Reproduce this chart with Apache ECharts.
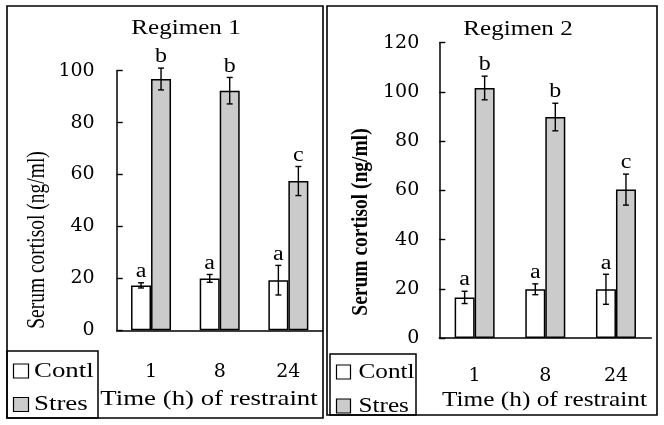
<!DOCTYPE html>
<html>
<head>
<meta charset="utf-8">
<script src="https://cdn.jsdelivr.net/npm/echarts@6/dist/echarts.min.js"></script>
<style>html,body{margin:0;padding:0;background:#fff;}#c{width:664px;height:425px;}</style>
</head>
<body>
<div id="c"></div>
<script>
const categories = ['1', '8', '24'];
const seriesNames = ['Contl', 'Stres'];
const titles = ['Regimen 1', 'Regimen 2'];
const yAxisTitle = 'Serum cortisol (ng/ml)';
const xAxisTitle = 'Time (h) of restraint';

const r1Contl = [17.3, 20.0, 19.3];
const r1ContlErr = [1.0, 1.5, 5.7];
const r1Stres = [96.8, 92.3, 57.5];
const r1StresErr = [4.2, 5.1, 5.6];
const r1ContlLetters = ['a', 'a', 'a'];
const r1StresLetters = ['b', 'b', 'c'];

const r2Contl = [16.5, 19.8, 19.8];
const r2ContlErr = [2.5, 2.2, 6.1];
const r2Stres = [101.6, 89.8, 60.3];
const r2StresErr = [4.8, 5.6, 6.3];
const r2ContlLetters = ['a', 'a', 'a'];
const r2StresLetters = ['b', 'b', 'c'];

const yMax = [100, 120];
const FONT = '"Liberation Serif", "DejaVu Serif", serif';
const NUMFONT = '"DejaVu Serif", "Liberation Serif", serif';
const STRES_COLOR = '#cbcbcb';
const FILLS = ['#ffffff', STRES_COLOR];

const chart = echarts.init(document.getElementById('c'), null, {renderer: 'canvas'});

function errSeries(gi, means, errs, letters, offset) {
  return {
    type: 'custom', xAxisIndex: gi, yAxisIndex: gi, z: 10, silent: true,
    data: means.map((m, i) => [i, m, errs[i]]),
    renderItem: function (params, api) {
      const hi = api.coord([api.value(0), api.value(1) + api.value(2)]);
      const lo = api.coord([api.value(0), api.value(1) - api.value(2)]);
      const x = hi[0] + offset;
      const st = {stroke: '#000', lineWidth: 1.4};
      return {
        type: 'group',
        children: [
          {type: 'line', shape: {x1: x, y1: hi[1], x2: x, y2: lo[1]}, style: st},
          {type: 'line', shape: {x1: x - 3, y1: hi[1], x2: x + 3, y2: hi[1]}, style: st},
          {type: 'line', shape: {x1: x - 3, y1: lo[1], x2: x + 3, y2: lo[1]}, style: st},
          {type: 'text', x: x, y: hi[1] - 1, scaleX: 1.2,
           style: {text: letters[params.dataIndex], x: 0, y: 0,
            align: 'center', verticalAlign: 'bottom', fontFamily: FONT, fontSize: 20, fill: '#000'}}
        ]
      };
    }
  };
}

const grids = [
  {left: 116.7, top: 70.7, width: 206, height: 259.6},
  {left: 439.3, top: 42.7, width: 212, height: 295.3}
];

const axisLabelMarginY = [22, 20];
const axisLabelMarginX = [32, 29];

function legendGraphics(box, sq, textX, rowY, scale) {
  const out = [{type: 'rect', shape: box, style: {fill: null, stroke: '#000', lineWidth: 1.5}, silent: true}];
  seriesNames.forEach((n, i) => {
    out.push({type: 'rect', shape: {x: sq.x, y: rowY[i] - 7, width: sq.w, height: 14},
      style: {fill: FILLS[i], stroke: '#000', lineWidth: 1.2}, silent: true});
    out.push({type: 'text', x: textX, y: rowY[i], scaleX: scale,
      style: {text: n, x: 0, y: 0, align: 'left', verticalAlign: 'middle', fontFamily: FONT, fontSize: 21, fill: '#000'}});
  });
  return out;
}

const option = {
  backgroundColor: '#fff',
  animation: false,
  grid: grids,
  xAxis: [0, 1].map(i => ({
    type: 'category', gridIndex: i, data: categories,
    axisLine: {lineStyle: {color: '#000', width: 1.5}},
    axisTick: {inside: true, length: 6, lineStyle: {color: '#000', width: 1.4}},
    axisLabel: {color: '#000', fontFamily: NUMFONT, fontSize: 19, margin: axisLabelMarginX[i]},
    splitLine: {show: false}
  })),
  yAxis: [0, 1].map(i => ({
    type: 'value', gridIndex: i, min: 0, max: yMax[i], interval: 20,
    axisLine: {show: true, lineStyle: {color: '#000', width: 1.5}},
    axisTick: {show: true, inside: true, length: 6, lineStyle: {color: '#000', width: 1.4}},
    axisLabel: {color: '#000', fontFamily: NUMFONT, fontSize: 19, margin: axisLabelMarginY[i]},
    splitLine: {show: false}
  })),
  series: [
    {name: 'Contl', type: 'bar', xAxisIndex: 0, yAxisIndex: 0, data: r1Contl, barWidth: 20, barGap: '0%',
     itemStyle: {color: FILLS[0], borderColor: '#000', borderWidth: 1.5}},
    {name: 'Stres', type: 'bar', xAxisIndex: 0, yAxisIndex: 0, data: r1Stres, barWidth: 20, barGap: '0%',
     itemStyle: {color: FILLS[1], borderColor: '#000', borderWidth: 1.5}},
    {name: 'Contl', type: 'bar', xAxisIndex: 1, yAxisIndex: 1, data: r2Contl, barWidth: 20, barGap: '0%',
     itemStyle: {color: FILLS[0], borderColor: '#000', borderWidth: 1.5}},
    {name: 'Stres', type: 'bar', xAxisIndex: 1, yAxisIndex: 1, data: r2Stres, barWidth: 20, barGap: '0%',
     itemStyle: {color: FILLS[1], borderColor: '#000', borderWidth: 1.5}},
    errSeries(0, r1Contl, r1ContlErr, r1ContlLetters, -10),
    errSeries(0, r1Stres, r1StresErr, r1StresLetters, 10),
    errSeries(1, r2Contl, r2ContlErr, r2ContlLetters, -10),
    errSeries(1, r2Stres, r2StresErr, r2StresLetters, 10)
  ],
  graphic: [
    {type: 'rect', shape: {x: 7, y: 6, width: 316, height: 412}, style: {fill: null, stroke: '#000', lineWidth: 1.6}, silent: true},
    {type: 'rect', shape: {x: 327, y: 6, width: 330, height: 409}, style: {fill: null, stroke: '#000', lineWidth: 1.6}, silent: true},
    ...legendGraphics({x: 7, y: 351, width: 91, height: 67}, {x: 13.5, w: 15}, 34, [371, 404.5], 1.28),
    ...legendGraphics({x: 330, y: 354, width: 86, height: 61}, {x: 336.5, w: 14}, 358.5, [372, 406], 1.2),
    {type: 'text', x: 186, y: 28, scaleX: 1.14, style: {text: titles[0], x: 0, y: 0, align: 'center', verticalAlign: 'middle', fontFamily: FONT, fontSize: 22, fill: '#000'}},
    {type: 'text', x: 518, y: 29, scaleX: 1.14, style: {text: titles[1], x: 0, y: 0, align: 'center', verticalAlign: 'middle', fontFamily: FONT, fontSize: 22, fill: '#000'}},
    {type: 'text', x: 38, y: 240, rotation: Math.PI / 2, scaleY: 1.25, style: {text: yAxisTitle, x: 0, y: 0, align: 'center', verticalAlign: 'middle', fontFamily: FONT, fontSize: 19.5, fill: '#000'}},
    {type: 'text', x: 361, y: 222, rotation: Math.PI / 2, scaleY: 1.2, style: {text: yAxisTitle, x: 0, y: 0, align: 'center', verticalAlign: 'middle', fontFamily: FONT, fontSize: 19.5, fontWeight: 'bold', fill: '#000'}},
    {type: 'text', x: 209, y: 399, scaleX: 1.22, style: {text: xAxisTitle, x: 0, y: 0, align: 'center', verticalAlign: 'middle', fontFamily: FONT, fontSize: 22, fill: '#000'}},
    {type: 'text', x: 544.5, y: 400, scaleX: 1.15, style: {text: xAxisTitle, x: 0, y: 0, align: 'center', verticalAlign: 'middle', fontFamily: FONT, fontSize: 22, fill: '#000'}}
  ]
};
chart.setOption(option);
</script>
</body>
</html>
